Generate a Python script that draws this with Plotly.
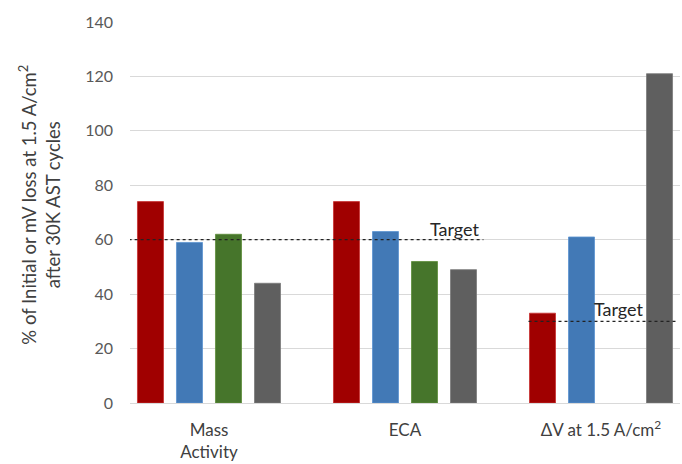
import plotly.graph_objects as go

# Loss metrics after 30K accelerated stress test cycles
categories = ["Mass<br>Activity", "ECA", "ΔV at 1.5 A/cm<sup>2</sup>"]
series_red = [74, 74, 33]
series_blue = [59, 63, 61]
series_green = [62, 52, None]
series_gray = [44, 49, 121]
target_values = [60, 30]
y_ticks = [0, 20, 40, 60, 80, 100, 120, 140]

FONT = "Lato"
TEXT = "#404040"

x_pos = list(range(len(categories)))

fig = go.Figure()
series = [
    (series_red, "#a00000", "#c83030"),
    (series_blue, "#4279b6", "#5a93d0"),
    (series_green, "#46752b", "#5d8d3a"),
    (series_gray, "#5f5f5f", "#7a7a7a"),
]
for vals, color, edge in series:
    fig.add_trace(go.Bar(
        x=x_pos, y=vals,
        marker=dict(color=color, line=dict(color=edge, width=0.8)),
        showlegend=False, hoverinfo="y",
    ))

# Dotted target lines with their labels
fig.add_shape(type="line", xref="x", yref="y",
              x0=-0.41, x1=1.40, y0=target_values[0], y1=target_values[0],
              line=dict(color="#222222", width=1.2, dash="dot"))
fig.add_annotation(x=1.395, y=target_values[0], xref="x", yref="y",
                   text="Target", showarrow=False, xanchor="right", yanchor="bottom",
                   font=dict(family=FONT, size=18, color="#262626"), yshift=-2)
fig.add_shape(type="line", xref="x", yref="y",
              x0=1.63, x1=2.38, y0=target_values[1], y1=target_values[1],
              line=dict(color="#222222", width=1.2, dash="dot"))
fig.add_annotation(x=2.23, y=target_values[1], xref="x", yref="y",
                   text="Target", showarrow=False, xanchor="right", yanchor="bottom",
                   font=dict(family=FONT, size=18, color="#262626"), yshift=-1)

fig.add_annotation(
    xref="paper", yref="paper", x=-0.164, y=0.52,
    text="% of Initial or mV loss at 1.5 A/cm<sup>2</sup><br>after 30K AST cycles",
    textangle=-90, showarrow=False, xanchor="center", yanchor="middle",
    font=dict(family=FONT, size=18.5, color=TEXT),
)

fig.update_layout(
    width=682, height=464,
    margin=dict(l=130, r=2, t=22, b=61),
    paper_bgcolor="white", plot_bgcolor="white",
    barmode="group", bargap=0.204, bargroupgap=1/3,
    font=dict(family=FONT, color=TEXT),
    xaxis=dict(
        range=[-0.403, 2.403], tickvals=x_pos, ticktext=categories,
        showgrid=False, zeroline=False, showline=False, ticks="",
        ticklabelstandoff=15,
        tickfont=dict(family=FONT, size=17, color=TEXT),
    ),
    yaxis=dict(
        range=[0, 140], tickvals=y_ticks, showgrid=True,
        gridcolor="#d9d9d9", gridwidth=1, zeroline=True,
        zerolinecolor="#d9d9d9", zerolinewidth=1,
        ticks="", ticklabelstandoff=16,
        tickfont=dict(family=FONT, size=16, color="#595959"),
    ),
)

fig.write_html("out.html")
